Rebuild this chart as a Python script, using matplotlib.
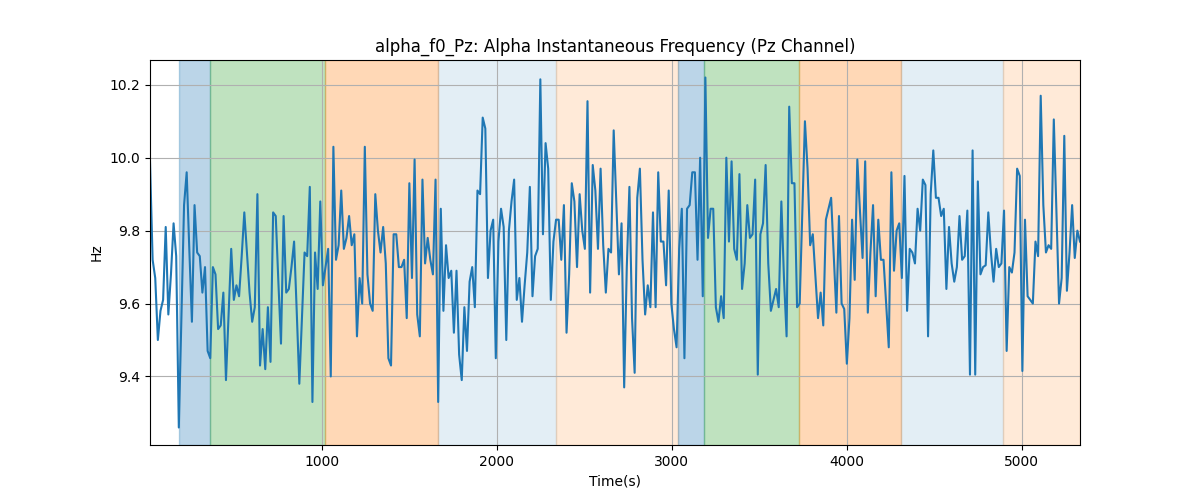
import numpy as np
import matplotlib
matplotlib.use('Agg')
import matplotlib.pyplot as plt

# alpha instantaneous frequency, Pz channel (Hz), sampled evenly over the recording
t_start, t_end = 18, 5334
freq_hz = [
    9.99, 9.72, 9.67, 9.50, 9.58, 9.61, 9.81, 9.57, 9.68, 9.82,
    9.73, 9.26, 9.56, 9.87, 9.96, 9.75, 9.55, 9.87, 9.74, 9.73,
    9.63, 9.70, 9.47, 9.45, 9.70, 9.68, 9.53, 9.54, 9.63, 9.39,
    9.57, 9.75, 9.61, 9.65, 9.62, 9.73, 9.85, 9.74, 9.63, 9.55,
    9.59, 9.90, 9.43, 9.53, 9.42, 9.59, 9.44, 9.85, 9.84, 9.66,
    9.49, 9.84, 9.63, 9.64, 9.70, 9.77, 9.58, 9.38, 9.56, 9.74,
    9.73,
    9.92, 9.33, 9.74, 9.64, 9.88, 9.65, 9.70, 9.75, 9.40, 10.03,
    9.72, 9.76, 9.91, 9.75, 9.78, 9.84, 9.76, 9.79, 9.51, 9.67,
    9.60, 10.03, 9.68, 9.60, 9.58, 9.90, 9.80, 9.74, 9.81, 9.71,
    9.45, 9.43, 9.79, 9.79, 9.70, 9.70, 9.72, 9.56, 9.93, 9.67,
    9.995, 9.57, 9.51, 9.94, 9.71, 9.78, 9.72, 9.68, 9.94, 9.33,
    9.86, 9.58, 9.76, 9.67, 9.69, 9.52, 9.69,
    9.46, 9.39, 9.59, 9.47, 9.66, 9.70, 9.59, 9.91, 9.90, 10.11,
    10.08, 9.67, 9.80, 9.83, 9.45, 9.77, 9.86, 9.81, 9.50, 9.80,
    9.88, 9.94, 9.61, 9.67, 9.55, 9.65, 9.74, 9.92, 9.62, 9.73,
    9.75, 10.215, 9.79, 10.04, 9.97, 9.61, 9.77, 9.83, 9.83, 9.72,
    9.87, 9.52, 9.68, 9.93, 9.88, 9.70, 9.90, 9.80, 9.75, 10.155,
    9.63, 9.98, 9.91, 9.75, 9.97, 9.76,
    9.63, 9.75, 9.74, 10.075, 9.88, 9.68, 9.82, 9.37, 9.70, 9.92,
    9.56, 9.41, 9.89, 9.97, 9.72, 9.57, 9.65, 9.59, 9.85, 9.59,
    9.96, 9.77, 9.77, 9.65, 9.91, 9.60, 9.53, 9.48, 9.75, 9.86,
    9.45, 9.86, 9.87, 9.96, 9.96, 9.72, 10.00, 9.62, 10.22, 9.78,
    9.86, 9.86, 9.59, 9.55, 9.62, 9.56, 10.00, 9.77, 9.99, 9.75,
    9.72, 9.955, 9.64, 9.71, 9.87, 9.78, 9.79, 9.94, 9.405, 9.79,
    9.82, 9.98, 9.71, 9.58, 9.61, 9.64, 9.59, 9.88, 9.67, 9.51,
    10.14, 9.93, 9.93, 9.59, 9.60, 9.85, 10.10, 9.97, 9.76, 9.79,
    9.675, 9.56, 9.63, 9.54, 9.83, 9.86, 9.89, 9.73, 9.575, 9.84,
    9.60, 9.585, 9.435, 9.56, 9.83, 9.665, 9.995, 9.855, 9.725, 9.99,
    9.575, 9.74, 9.87, 9.62, 9.83, 9.72, 9.72, 9.60, 9.48, 9.96,
    9.69, 9.80, 9.82, 9.67, 9.95, 9.58,
    9.75, 9.74, 9.71, 9.86, 9.80, 9.94, 9.925, 9.51, 9.90, 10.02,
    9.89, 9.89, 9.84, 9.86, 9.64, 9.81, 9.71, 9.66, 9.70, 9.84,
    9.72, 9.73, 9.855, 9.405, 10.02, 9.405, 9.935, 9.68, 9.70, 9.705,
    9.85, 9.74, 9.66, 9.75, 9.70, 9.71, 9.855, 9.47, 9.70, 9.685,
    9.74, 9.97, 9.95, 9.415, 9.83, 9.62, 9.61, 9.60, 9.77, 9.73,
    10.17, 9.87, 9.74, 9.76, 9.75, 10.105, 9.85, 9.60, 9.67, 10.06,
    9.635, 9.74, 9.87, 9.725, 9.80, 9.77,
]

# condition blocks (start, end in seconds) with their shading
block_starts = [186, 359, 1021, 1666, 2339, 3035, 3186, 3730, 4310, 4893]
block_ends = [359, 1021, 1666, 2339, 3035, 3186, 3730, 4310, 4893, 5334]
block_colors = ['tab:blue', 'tab:green', 'tab:orange', 'tab:blue', 'tab:orange',
                'tab:blue', 'tab:green', 'tab:orange', 'tab:blue', 'tab:orange']
block_alphas = [0.3, 0.3, 0.3, 0.12, 0.16, 0.3, 0.3, 0.3, 0.12, 0.16]

time_s = np.linspace(t_start, t_end, len(freq_hz))

fig, ax = plt.subplots(figsize=(12, 5), dpi=100)

for s, e, c, a in zip(block_starts, block_ends, block_colors, block_alphas):
    ax.axvspan(s, e, color=c, alpha=a)

ax.plot(time_s, freq_hz, color='tab:blue', linewidth=1.5)
ax.set_xlim(time_s[0], time_s[-1])
ax.grid(True)

ax.set_title('alpha_f0_Pz: Alpha Instantaneous Frequency (Pz Channel)')
ax.set_xlabel('Time(s)')
ax.set_ylabel('Hz')

fig.savefig('out.png', dpi=100)
